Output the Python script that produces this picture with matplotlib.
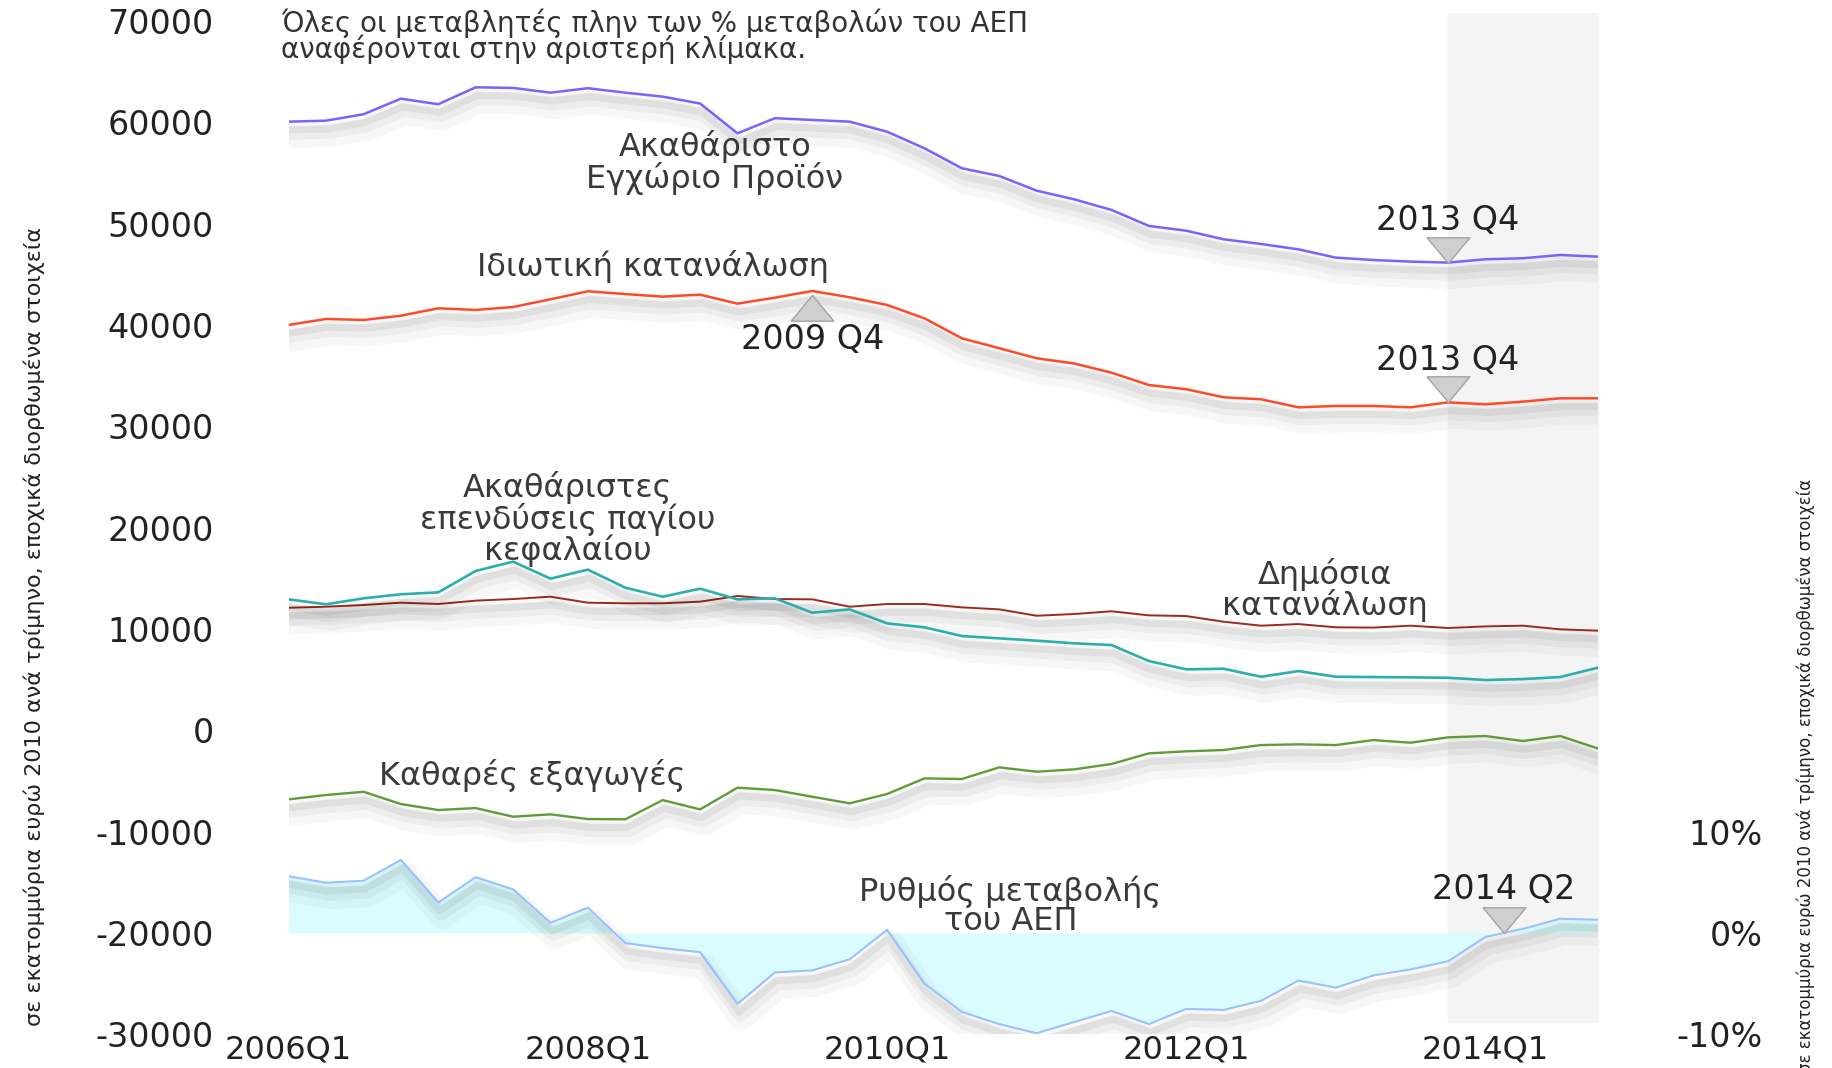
import numpy as np
import matplotlib
matplotlib.use("Agg")
import matplotlib.pyplot as plt
import matplotlib.patheffects as pe

plt.rcParams['font.family'] = ['DejaVu Sans']

# quarterly data, 2006Q1 .. 2014Q4 (million euro, 2010 prices, s.a.)
quarters = [f"{y}Q{q}" for y in range(2006, 2015) for q in range(1, 5)]
tick_labels = ["2006Q1", "2008Q1", "2010Q1", "2012Q1", "2014Q1"]

gdp = [60060, 60160, 60790, 62330, 61780, 63450, 63390, 62920, 63360, 62920, 62530, 61850,
       58910, 60400, 60230, 60060, 59070, 57430, 55460, 54700, 53250, 52400, 51350, 49770,
       49300, 48450, 47990, 47460, 46640, 46410, 46250, 46150, 46480, 46580, 46900, 46740]
private_cons = [40000, 40590, 40490, 40910, 41640, 41480, 41770, 42530, 43320, 43050, 42790, 42990,
                42100, 42690, 43350, 42730, 41970, 40650, 38680, 37700, 36710, 36200, 35290, 34070,
                33650, 32860, 32660, 31870, 32000, 32000, 31870, 32360, 32170, 32430, 32760, 32760]
gfcf = [12920, 12430, 13020, 13420, 13610, 15720, 16640, 14960, 15850, 14070, 13180, 13970,
        12920, 13020, 11600, 11930, 10550, 10160, 9300, 9070, 8840, 8580, 8410, 6830,
        6010, 6070, 5280, 5840, 5280, 5250, 5220, 5180, 4960, 5050, 5250, 6170]
public_cons = [12090, 12190, 12360, 12590, 12460, 12790, 12950, 13180, 12590, 12530, 12530, 12690,
               13250, 12950, 12920, 12190, 12460, 12460, 12130, 11930, 11300, 11470, 11740, 11340,
               11270, 10710, 10320, 10480, 10160, 10130, 10320, 10090, 10250, 10320, 9960, 9830]
net_exports = [-6820, -6390, -6070, -7280, -7870, -7680, -8530, -8300, -8760, -8790, -6890, -7810,
               -5670, -5900, -6560, -7210, -6290, -4750, -4810, -3660, -4090, -3860, -3330, -2280,
               -2080, -1950, -1460, -1390, -1460, -970, -1230, -700, -570, -1060, -570, -1790]
gdp_growth = [5.6, 4.95, 5.15, 7.2, 3.0, 5.5, 4.3, 1.0, 2.5, -1.0, -1.5, -1.9,
              -7.0, -3.9, -3.7, -2.6, 0.3, -5.0, -7.8, -9.0, -9.9, -8.8, -7.7, -9.0,
              -7.5, -7.6, -6.7, -4.7, -5.4, -4.2, -3.6, -2.8, -0.4, 0.4, 1.4, 1.3]

left_ticks = list(range(-30000, 70001, 10000))
right_ticks = [-10, 0, 10]
right_tick_labels = ["-10%", "0%", "10%"]

ylabel = "σε εκατομμύρια ευρώ 2010 ανά τρίμηνο, εποχικά διορθωμένα στοιχεία"
note = "Όλες οι μεταβλητές πλην των % μεταβολών του ΑΕΠ\nαναφέρονται στην αριστερή κλίμακα."

x = np.arange(len(quarters))
txt_col = '#3a3a3a'

shadow = [pe.SimpleLineShadow(offset=(3, -10), shadow_color='k', alpha=0.03, linewidth=18),
          pe.SimpleLineShadow(offset=(2, -8), shadow_color='k', alpha=0.04, linewidth=10),
          pe.SimpleLineShadow(offset=(1, -6), shadow_color='k', alpha=0.05, linewidth=5),
          pe.Normal()]

fig = plt.figure(figsize=(18.33, 10.68), dpi=100)
ax = fig.add_axes([0.1575, 0.0316, 0.7141, 0.9488])
ax.set_xlim(0, len(quarters) - 1)
ax.set_ylim(-30000, 70000)
for s in ax.spines.values():
    s.set_visible(False)

# latest period highlight
ax.axvspan(31, len(quarters) - 1, ymin=0.012, ymax=1.008, color='#f4f4f4', zorder=0, clip_on=False)

ax.plot(x, gdp, color='#7f5fff', lw=1.8, path_effects=shadow, zorder=3)
ax.plot(x, private_cons, color='#ff4a2a', lw=1.8, path_effects=shadow, zorder=3)
ax.plot(x, public_cons, color='#9c2a1c', lw=1.4, path_effects=shadow, zorder=3)
ax.plot(x, gfcf, color='#2eadad', lw=1.9, path_effects=shadow, zorder=3)
ax.plot(x, net_exports, color='#5f9c38', lw=1.7, path_effects=shadow, zorder=3)

ax.set_xticks([quarters.index(t) for t in tick_labels])
ax.set_xticklabels(tick_labels)
ax.set_yticks(left_ticks)
ax.set_yticklabels([str(v) for v in left_ticks])
ax.tick_params(length=0, labelsize=24, colors='#222222')
ax.tick_params(axis='y', pad=54)
ax.tick_params(axis='x', pad=0, labelsize=23)

# right scale: 0% sits at -20000 on the left scale, 10% per 10000
ax2 = ax.twinx()
ax2.set_ylim(-10, 90)
for s in ax2.spines.values():
    s.set_visible(False)
ax2.fill_between(x, 0, gdp_growth, color='#dbfcff', lw=0, zorder=1)
ax2.plot(x, gdp_growth, color='#9cbfff', lw=1.5, path_effects=shadow, zorder=2)
ax2.set_yticks(right_ticks)
ax2.set_yticklabels(right_tick_labels)
ax2.tick_params(length=0, labelsize=24, colors='#222222', pad=119)
plt.setp(ax2.get_yticklabels(), ha='right')

# markers
down_tri = [(-1, 1.2), (1, 1.2), (0, 0), (-1, 1.2)]
up_tri = [(-1, -1.2), (1, -1.2), (0, 0), (-1, -1.2)]
tri_kw = dict(ms=37, mfc='#cfcfcf', mec='#a5a5a5', mew=1, ls='none', zorder=6)
ann_kw = dict(textcoords='offset points', ha='center', va='center', fontsize=24, color='#222222')

ax.plot(31, gdp[31], marker=down_tri, **tri_kw)
ax.annotate("2013 Q4", (31, gdp[31]), xytext=(0, 30), **ann_kw)
ax.plot(31, private_cons[31], marker=down_tri, **tri_kw)
ax.annotate("2013 Q4", (31, private_cons[31]), xytext=(0, 30), **ann_kw)
ax.plot(14, private_cons[14] - 400, marker=up_tri, **tri_kw)
ax.annotate("2009 Q4", (14, private_cons[14]), xytext=(0, -35), **ann_kw)

g0, g1 = gdp_growth[32], gdp_growth[33]
x_cross = 32 + (-g0) / (g1 - g0)
ax2.plot(x_cross, 0, marker=down_tri, **tri_kw)
ax2.annotate("2014 Q2", (x_cross, 0), xytext=(0, 31), **ann_kw)

# series labels
lab_kw = dict(ha='center', va='center', fontsize=23, color=txt_col, linespacing=0.95, zorder=7)
ax.text(11.4, 56000, "Ακαθάριστο\nΕγχώριο Προϊόν", **lab_kw)
ax.text(9.75, 45770, "Ιδιωτική κατανάλωση", **lab_kw)
ax.text(7.45, 20850, "Ακαθάριστες\nεπενδύσεις παγίου\nκεφαλαίου", **lab_kw)
ax.text(27.7, 13840, "Δημόσια\nκατανάλωση", **lab_kw)
ax.text(6.5, -4420, "Καθαρές εξαγωγές", **lab_kw)
ax.text(19.3, -17350, "Ρυθμός μεταβολής\nτου ΑΕΠ", **lab_kw)
ax.text(-0.2, 68500, note, ha='left', va='center', fontsize=20, color='#333333', linespacing=0.85)

fig.text(0.0185, 0.413, ylabel, rotation=90, ha='center', va='center', fontsize=16,
         color='#222222')
fig.text(0.985, 0.5515, ylabel, rotation=90, ha='center', va='top', fontsize=12,
         color='#222222')

fig.savefig("out.png", dpi=100)
